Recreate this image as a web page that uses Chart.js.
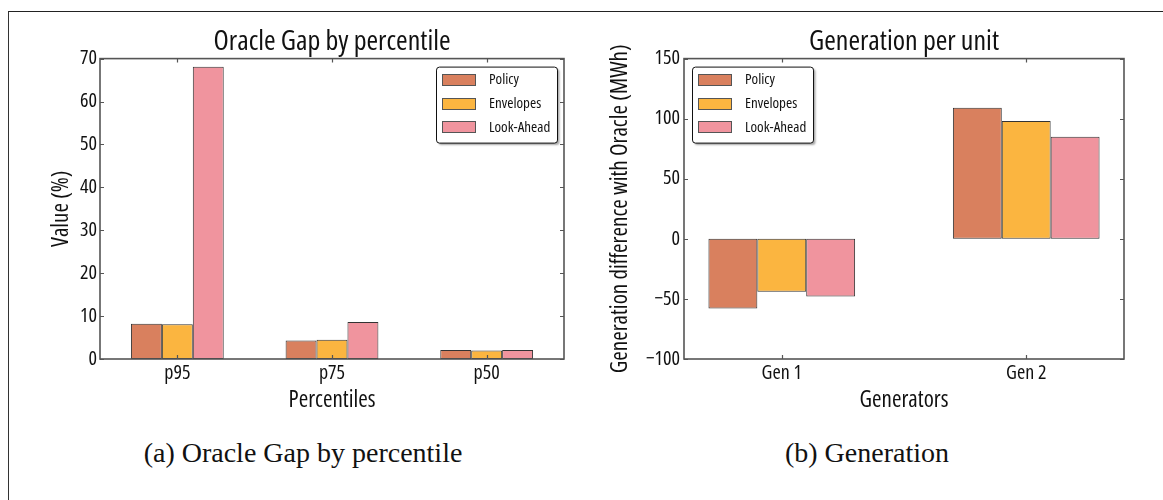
<!DOCTYPE html>
<html>
<head>
<meta charset="utf-8">
<script src="https://cdn.jsdelivr.net/npm/chart.js@4.4.1/dist/chart.umd.min.js"></script>
<style>
    body { margin: 0; background: #fff; }
    #page { position: relative; width: 1163px; height: 500px; overflow: hidden; background: #fff; }
    .frame { position: absolute; left: 8px; top: 11px; width: 2000px; height: 2000px; border-left: 1px solid #333; border-top: 1px solid #222; }
    canvas { position: absolute; top: 0; }
    .caption { position: absolute; width: 600px; text-align: center; font-family: 'Liberation Serif', 'Times New Roman', serif; font-size: 28px; line-height: 32px; color: #111; top: 437px; }
</style>
</head>
<body>
<div id="page">
    <div class="frame"></div>
    <canvas id="chart-gap" width="580" height="430" style="left:0"></canvas>
    <canvas id="chart-gen" width="583" height="430" style="left:580px"></canvas>
    <div class="caption" style="left:3px">(a) Oracle Gap by percentile</div>
    <div class="caption" style="left:567px">(b) Generation</div>
</div>
<script>
    // series names + colours
    const seriesNames = ['Policy', 'Envelopes', 'Look-Ahead'];
    const seriesColors = ['rgb(217,128,94)', 'rgb(251,181,64)', 'rgb(240,148,158)'];

    // left chart: oracle gap (%)
    const percentileLabels = ['p95', 'p75', 'p50'];
    const gapPolicy = [8.2, 4.3, 2.1];
    const gapEnvelopes = [8.1, 4.5, 2.0];
    const gapLookAhead = [68.1, 8.6, 2.1];

    // right chart: generation difference (MWh)
    const genLabels = ['Gen 1', 'Gen 2'];
    const genPolicy = [-58, 109];
    const genEnvelopes = [-44, 98];
    const genLookAhead = [-48, 85];

    // Open Sans has a condensed face installed, closest thing to the narrow font of the original
    const family = "'Open Sans', sans-serif";
    const stretch = 'condensed';
    Chart.defaults.font.family = family;
    Chart.defaults.font.weight = stretch;
    Chart.defaults.color = '#111';

    const axisColor = '#555';

    function f(size) {
        return {size: size, weight: stretch, family: family};
    }

    // frame, inward tick marks and the boxed legend inside the plot
    const frameAndLegend = {
        id: 'frameAndLegend',
        afterDatasetsDraw(chart, args, opts) {
            const {ctx, chartArea: a, scales} = chart;
            ctx.save();

            ctx.strokeStyle = axisColor;
            ctx.lineWidth = 1.2;
            ctx.beginPath();
            scales.y.ticks.forEach(t => {
                const y = Math.round(scales.y.getPixelForValue(t.value)) + 0.5;
                ctx.moveTo(a.left, y);
                ctx.lineTo(a.left + 4, y);
                ctx.moveTo(a.right, y);
                ctx.lineTo(a.right - 4, y);
            });
            scales.x.ticks.forEach((t, i) => {
                const x = Math.round(scales.x.getPixelForTick(i)) + 0.5;
                ctx.moveTo(x, a.bottom);
                ctx.lineTo(x, a.bottom - 4);
                ctx.moveTo(x, a.top);
                ctx.lineTo(x, a.top + 4);
            });
            ctx.stroke();

            ctx.lineWidth = 1.6;
            ctx.strokeRect(a.left, a.top, a.right - a.left, a.bottom - a.top);

            // legend
            const datasets = chart.data.datasets;
            ctx.font = stretch + ' 15px ' + family;
            let textW = 0;
            datasets.forEach(d => { textW = Math.max(textW, ctx.measureText(d.label).width); });
            const w = Math.round(6 + 34 + 13 + textW + 7);
            const h = 76;
            const top = a.top + 8;
            const left = opts.side === 'right' ? a.right - 7 - w : a.left + 8;

            ctx.save();
            ctx.shadowColor = 'rgba(0,0,0,0.35)';
            ctx.shadowOffsetX = 2;
            ctx.shadowOffsetY = 2;
            ctx.shadowBlur = 2;
            ctx.fillStyle = '#fff';
            ctx.beginPath();
            ctx.roundRect(left + 0.5, top + 0.5, w, h, 3);
            ctx.fill();
            ctx.restore();
            ctx.strokeStyle = '#111';
            ctx.lineWidth = 1;
            ctx.beginPath();
            ctx.roundRect(left + 0.5, top + 0.5, w, h, 3);
            ctx.stroke();

            ctx.textBaseline = 'middle';
            ctx.textAlign = 'left';
            datasets.forEach((d, i) => {
                const cy = top + 13.5 + i * 23.6;
                ctx.fillStyle = d.backgroundColor;
                ctx.fillRect(left + 6, Math.round(cy - 6), 34, 12);
                ctx.strokeStyle = '#555';
                ctx.strokeRect(left + 6.5, Math.round(cy - 6) + 0.5, 33, 11);
                ctx.fillStyle = '#111';
                ctx.fillText(d.label, left + 53, cy);
            });

            ctx.restore();
        }
    };

    function minusSign(value) {
        return value < 0 ? '\u2212' + Math.abs(value) : String(value);
    }

    function makeDataset(i, data) {
        return {
            label: seriesNames[i],
            data: data,
            backgroundColor: seriesColors[i],
            borderColor: '#333',
            borderWidth: 1,
            borderSkipped: false,
            barPercentage: 1,
            categoryPercentage: 0.6
        };
    }

    function baseTitle(text) {
        return {
            display: true,
            text: text,
            fullSize: false,
            color: '#111',
            font: f(28),
            padding: {top: 0, bottom: 0}
        };
    }

    const gapConfig = {
        type: 'bar',
        data: {
            labels: percentileLabels,
            datasets: [
                makeDataset(0, gapPolicy),
                makeDataset(1, gapEnvelopes),
                makeDataset(2, gapLookAhead)
            ]
        },
        options: {
            responsive: false,
            animation: false,
            devicePixelRatio: 1,
            layout: {padding: {left: 0, right: 16, top: 25, bottom: 0}},
            plugins: {
                legend: {display: false},
                tooltip: {enabled: false},
                title: baseTitle('Oracle Gap by percentile'),
                frameAndLegend: {side: 'right'}
            },
            scales: {
                x: {
                    grid: {display: false, drawTicks: false},
                    border: {display: false},
                    ticks: {font: f(20), padding: 2, color: '#111'},
                    title: {display: true, text: 'Percentiles', font: f(23), color: '#111', padding: {top: 0, bottom: 16}},
                    afterFit(scale) { scale.height = 71; }
                },
                y: {
                    min: 0,
                    max: 70,
                    grid: {display: false, drawTicks: false},
                    border: {display: false},
                    ticks: {stepSize: 10, font: f(20), padding: 3, color: '#111', callback: minusSign},
                    title: {display: true, text: 'Value (%)', font: f(23), color: '#111', padding: {top: 48, bottom: 0}},
                    afterFit(scale) { scale.width = 100; }
                }
            }
        },
        plugins: [frameAndLegend]
    };

    const genConfig = {
        type: 'bar',
        data: {
            datasets: [
                makeDataset(0, genPolicy.map((v, i) => ({x: i, y: v}))),
                makeDataset(1, genEnvelopes.map((v, i) => ({x: i, y: v}))),
                makeDataset(2, genLookAhead.map((v, i) => ({x: i, y: v})))
            ]
        },
        options: {
            responsive: false,
            animation: false,
            devicePixelRatio: 1,
            layout: {padding: {left: 0, right: 39, top: 25, bottom: 0}},
            plugins: {
                legend: {display: false},
                tooltip: {enabled: false},
                title: baseTitle('Generation per unit'),
                frameAndLegend: {side: 'left'}
            },
            scales: {
                x: {
                    type: 'linear',
                    min: -0.4,
                    max: 1.4,
                    offset: false,
                    grid: {display: false, drawTicks: false},
                    border: {display: false},
                    ticks: {font: f(20), padding: 2, color: '#111', callback: v => genLabels[v]},
                    afterBuildTicks(scale) { scale.ticks = genLabels.map((l, i) => ({value: i})); },
                    title: {display: true, text: 'Generators', font: f(23), color: '#111', padding: {top: 0, bottom: 16}},
                    afterFit(scale) { scale.height = 71; }
                },
                y: {
                    min: -100,
                    max: 150,
                    grid: {display: false, drawTicks: false},
                    border: {display: false},
                    ticks: {stepSize: 50, font: f(20), padding: 4, color: '#111', callback: minusSign},
                    title: {display: true, text: 'Generation difference with Oracle (MWh)', font: f(23), color: '#111', padding: {top: 27, bottom: 0}},
                    afterFit(scale) { scale.width = 104; }
                }
            }
        },
        plugins: [frameAndLegend]
    };

    new Chart(document.getElementById('chart-gap'), gapConfig);
    new Chart(document.getElementById('chart-gen'), genConfig);
</script>
</body>
</html>
